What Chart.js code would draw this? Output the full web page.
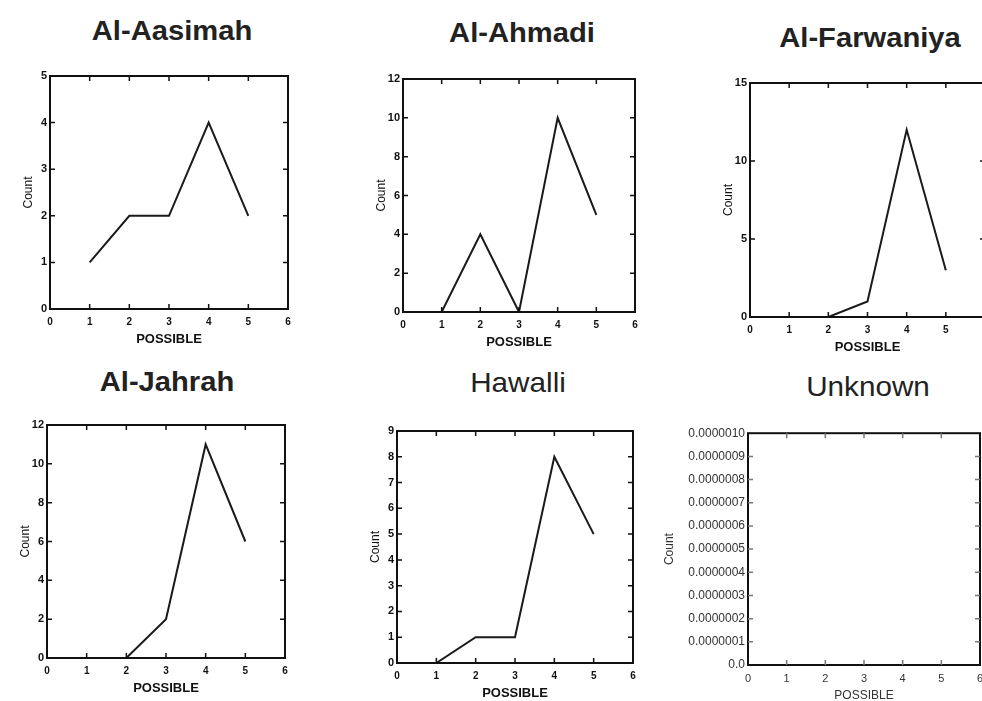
<!DOCTYPE html>
<html>
<head>
<meta charset="utf-8">
<title>Count by POSSIBLE per governorate</title>
<script src="https://cdn.jsdelivr.net/npm/chart.js@4.4.1/dist/chart.umd.min.js"></script>
<style>
  body { margin: 0; background: #fff; width: 982px; height: 701px; position: relative; overflow: hidden; font-family: "Liberation Sans", Arial, sans-serif; }
  .title { position: absolute; white-space: nowrap; color: #222; line-height: 1; }
  canvas { position: absolute; }
</style>
</head>
<body>
<script>
// values
const possible = [1, 2, 3, 4, 5];
const xTicks = [0, 1, 2, 3, 4, 5, 6];

const aasimahCounts = [1, 2, 2, 4, 2];
const ahmadiCounts = [0, 4, 0, 10, 5];
const farwaniyaCounts = [null, 0, 1, 12, 3];
const jahrahCounts = [null, 0, 2, 11, 6];
const hawalliCounts = [0, 1, 1, 8, 5];
const unknownCounts = [];

const aasimahYTicks = [0, 1, 2, 3, 4, 5];
const ahmadiYTicks = [0, 2, 4, 6, 8, 10, 12];
const farwaniyaYTicks = [0, 5, 10, 15];
const jahrahYTicks = [0, 2, 4, 6, 8, 10, 12];
const hawalliYTicks = [0, 1, 2, 3, 4, 5, 6, 7, 8, 9];
const unknownYTicks = [0, 0.0000001, 0.0000002, 0.0000003, 0.0000004, 0.0000005,
                       0.0000006, 0.0000007, 0.0000008, 0.0000009, 0.000001];

// where each small plot sits on the page (plot box l/t/r/b)
const panels = [
    { title: 'Al-Aasimah', counts: aasimahCounts, yTicks: aasimahYTicks, bold: true, cx: 172, ty: 18, l: 50, t: 76, r: 288, b: 309 },
    { title: 'Al-Ahmadi', counts: ahmadiCounts, yTicks: ahmadiYTicks, bold: true, cx: 522, ty: 20, l: 403, t: 79, r: 635, b: 312 },
    { title: 'Al-Farwaniya', counts: farwaniyaCounts, yTicks: farwaniyaYTicks, bold: true, cx: 870, ty: 25, l: 750, t: 83, r: 985, b: 317 },
    { title: 'Al-Jahrah', counts: jahrahCounts, yTicks: jahrahYTicks, bold: true, cx: 167, ty: 369, l: 47, t: 425, r: 285, b: 658 },
    { title: 'Hawalli', counts: hawalliCounts, yTicks: hawalliYTicks, bold: false, cx: 518, ty: 369, l: 397, t: 431, r: 633, b: 663 },
    { title: 'Unknown', counts: unknownCounts, yTicks: unknownYTicks, bold: false, cx: 868, ty: 373, l: 748, t: 433, r: 980, b: 665, faint: true }
];

Chart.defaults.font.family = '"Liberation Sans", Arial, sans-serif';
Chart.defaults.color = '#111';

// box round the plot plus the small inward tick marks on all four sides
const framePlugin = {
    id: 'frame',
    afterDatasetsDraw(chart, args, opts) {
        const { ctx, chartArea: a, scales: { x, y } } = chart;
        ctx.save();
        ctx.strokeStyle = '#111';
        ctx.lineWidth = 2;
        ctx.strokeRect(a.left, a.top, a.right - a.left, a.bottom - a.top);
        ctx.strokeStyle = opts.tickColor;
        ctx.lineWidth = 1.5;
        ctx.beginPath();
        x.ticks.forEach(t => {
            if (t.value <= x.min || t.value >= x.max) return;
            const px = x.getPixelForValue(t.value);
            ctx.moveTo(px, a.bottom); ctx.lineTo(px, a.bottom - 5);
            ctx.moveTo(px, a.top); ctx.lineTo(px, a.top + 5);
        });
        y.ticks.forEach(t => {
            if (t.value <= y.min || t.value >= y.max) return;
            const py = y.getPixelForValue(t.value);
            ctx.moveTo(a.left, py); ctx.lineTo(a.left + 5, py);
            ctx.moveTo(a.right, py); ctx.lineTo(a.right - 5, py);
        });
        ctx.stroke();
        ctx.restore();
    }
};

panels.forEach(p => {
    const yW = p.faint ? 86 : 29;   // room left of the plot for labels + "Count"
    const xH = 38;                  // room under the plot for labels + "POSSIBLE"
    const padTop = 10, padRight = 12;

    const title = document.createElement('div');
    title.className = 'title';
    title.textContent = p.title;
    title.style.fontSize = (p.bold ? 27 : 28) + 'px';
    title.style.fontWeight = p.bold ? 'bold' : 'normal';
    title.style.left = p.cx + 'px';
    title.style.top = p.ty + 'px';
    title.style.transform = 'translateX(-50%) scaleX(' + (p.bold ? 1.08 : 1.06) + ')';
    document.body.appendChild(title);

    const canvas = document.createElement('canvas');
    canvas.width = (p.r - p.l) + yW + padRight;
    canvas.height = (p.b - p.t) + padTop + xH;
    canvas.style.left = (p.l - yW) + 'px';
    canvas.style.top = (p.t - padTop) + 'px';
    document.body.appendChild(canvas);

    const yMax = p.yTicks[p.yTicks.length - 1];
    const yStep = p.yTicks[1] - p.yTicks[0];
    const labelColor = p.faint ? '#333' : '#111';

    new Chart(canvas.getContext('2d'), {
        type: 'line',
        data: {
            datasets: [{
                data: p.counts.map((c, i) => ({ x: possible[i], y: c })),
                borderColor: '#1a1a1a',
                borderWidth: 2,
                pointRadius: 0,
                tension: 0,
                fill: false
            }]
        },
        options: {
            responsive: false,
            animation: false,
            layout: { padding: { top: padTop, right: padRight, left: 0, bottom: 0 } },
            plugins: {
                legend: { display: false },
                tooltip: { enabled: false },
                frame: { tickColor: p.faint ? '#777' : '#111' }
            },
            scales: {
                x: {
                    type: 'linear',
                    min: xTicks[0],
                    max: xTicks[xTicks.length - 1],
                    afterBuildTicks: s => { s.ticks = xTicks.map(v => ({ value: v })); },
                    afterFit: s => { s.height = xH; },
                    grid: { display: false, drawTicks: false },
                    border: { display: false },
                    ticks: {
                        padding: 7,
                        color: labelColor,
                        font: { size: p.faint ? 11 : 10, weight: p.faint ? 'normal' : 'bold' },
                        maxRotation: 0
                    },
                    title: {
                        display: true,
                        text: 'POSSIBLE',
                        color: labelColor,
                        padding: 0,
                        font: { size: p.faint ? 12 : 13, weight: p.faint ? 'normal' : 'bold' }
                    }
                },
                y: {
                    min: 0,
                    max: yMax,
                    afterBuildTicks: s => { s.ticks = p.yTicks.map(v => ({ value: v })); },
                    afterFit: s => { s.width = yW; },
                    grid: { display: false, drawTicks: false },
                    border: { display: false },
                    ticks: {
                        padding: 3,
                        color: labelColor,
                        font: { size: p.faint ? 12 : 11, weight: p.faint ? 'normal' : 'bold' },
                        callback: v => p.faint ? (v === 0 ? '0.0' : v.toFixed(7)) : String(Math.round(v / yStep) * yStep)
                    },
                    title: {
                        display: true,
                        text: 'Count',
                        color: labelColor,
                        padding: 0,
                        font: { size: 12 }
                    }
                }
            }
        },
        plugins: [framePlugin]
    });
});
</script>
</body>
</html>
